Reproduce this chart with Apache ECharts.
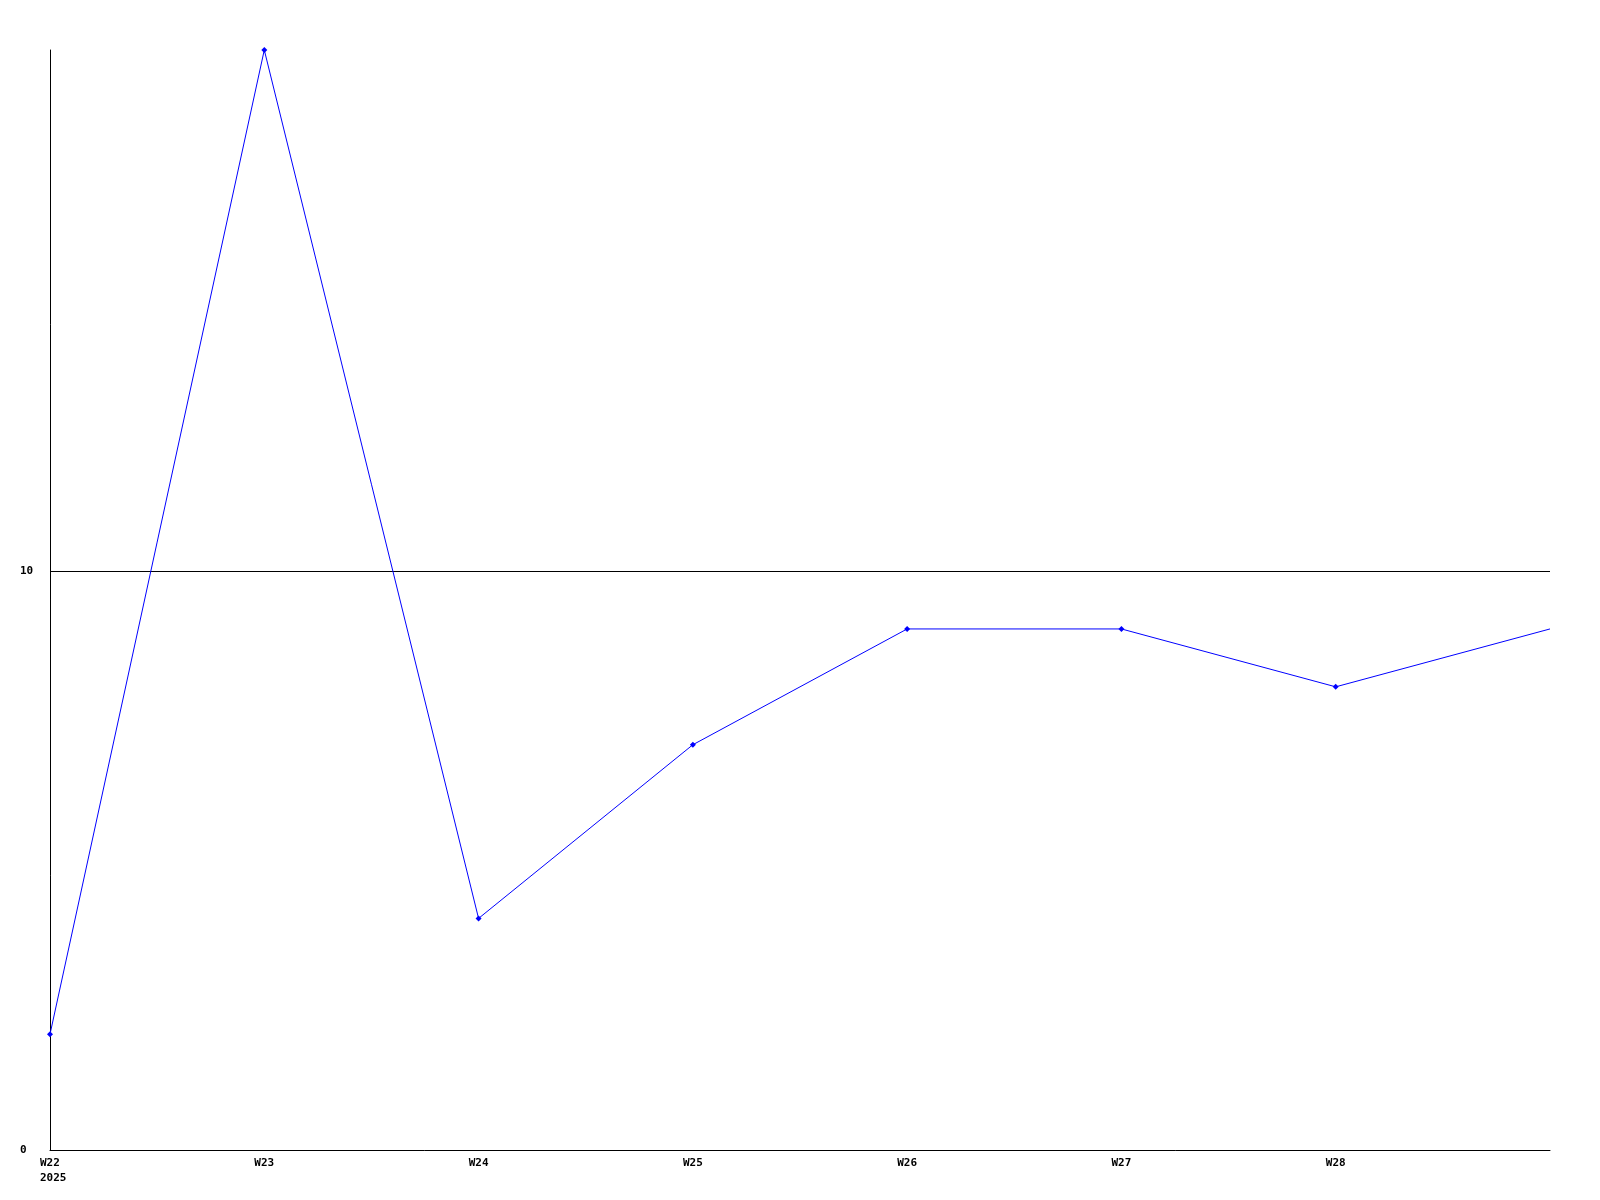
<!DOCTYPE html>
<html>
<head>
<meta charset="utf-8">
<script src="https://cdn.jsdelivr.net/npm/echarts@6/dist/echarts.min.js"></script>
<style>html,body{margin:0;padding:0;background:#fff}#c{width:1600px;height:1200px}</style>
</head>
<body>
<div id="c"></div>
<script>
var categories = ['W22', 'W23', 'W24', 'W25', 'W26', 'W27', 'W28', 'W29'];
var values = [2, 19, 4, 7, 9, 9, 8, 9];
var yearLabel = '2025';
var yTickLabels = ['0', '10'];

var chart = echarts.init(document.getElementById('c'), null, {renderer: 'canvas'});
var font = '"DejaVu Sans Mono", monospace';
chart.setOption({
  animation: false,
  backgroundColor: '#ffffff',
  grid: {left: 50, right: 50, top: 50, bottom: 50, containLabel: false},
  xAxis: {
    type: 'category',
    data: categories,
    boundaryGap: false,
    axisLine: {lineStyle: {color: '#000', width: 1}},
    axisTick: {show: false},
    splitLine: {show: false},
    axisLabel: {
      interval: 0,
      margin: 6,
      color: '#000',
      fontFamily: font,
      fontWeight: 'bold',
      fontSize: 11,
      lineHeight: 15,
      formatter: function (v, i) {
        if (i === categories.length - 1) return '';
        return i === 0 ? '{f|' + v + '}\n{f|' + yearLabel + '}' : v;
      },
      rich: {
        f: {width: 20, align: 'left', fontFamily: font, fontWeight: 'bold', fontSize: 11, lineHeight: 15, color: '#000', overflow: 'none'}
      }
    }
  },
  yAxis: {
    type: 'value',
    min: 0,
    max: 19,
    interval: 10,
    axisLine: {show: true, lineStyle: {color: '#000', width: 1}},
    axisTick: {show: false},
    splitLine: {show: true, showMinLine: false, showMaxLine: false, lineStyle: {color: '#000', width: 1}},
    axisLabel: {
      align: 'left',
      margin: 30,
      color: '#000',
      fontFamily: font,
      fontWeight: 'bold',
      fontSize: 11,
      showMaxLabel: false,
      formatter: function (v) {
        return yTickLabels.indexOf(String(v)) >= 0 ? String(v) : '';
      }
    }
  },
  series: [{
    type: 'line',
    data: values,
    color: '#0000ff',
    lineStyle: {color: '#0000ff', width: 1},
    itemStyle: {color: '#0000ff'},
    symbol: function (v, p) { return p.dataIndex === values.length - 1 ? 'none' : 'diamond'; },
    symbolSize: 6,
    showAllSymbol: true
  }]
});
</script>
</body>
</html>
